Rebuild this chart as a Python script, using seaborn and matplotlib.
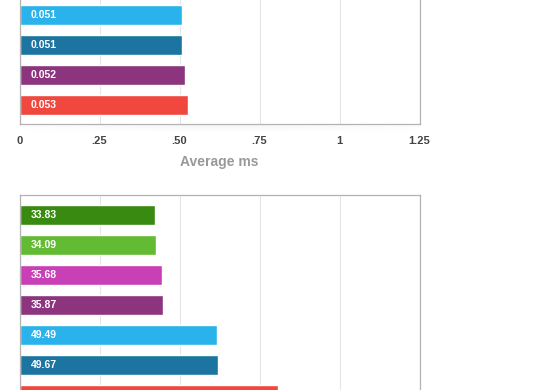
import matplotlib
matplotlib.use('Agg')
import matplotlib.pyplot as plt
import numpy as np
import seaborn as sns

# top panel (cropped at the top of the picture)
top_names = ['lib_d', 'lib_e', 'lib_f', 'lib_g']
top_lengths = [0.508, 0.508, 0.516, 0.527]
top_labels = ['0.051', '0.051', '0.052', '0.053']
top_colors = ['#2ab2eb', '#1c75a1', '#8d347f', '#f0483f']
top_ticks = [0, 0.25, 0.5, 0.75, 1, 1.25]
top_tick_labels = ['0', '.25', '.50', '.75', '1', '1.25']

# bottom panel (cropped at the bottom of the picture, last label not visible)
bot_names = ['lib_a', 'lib_b', 'lib_c', 'lib_f', 'lib_d', 'lib_e', 'lib_g']
bot_values = [33.83, 34.09, 35.68, 35.87, 49.49, 49.67, 64.5]
bot_labels = ['33.83', '34.09', '35.68', '35.87', '49.49', '49.67']
bot_colors = ['#388a10', '#63bb33', '#c83fb6', '#8d347f', '#2ab2eb', '#1c75a1', '#f0483f']
bot_ticks = [0, 20, 40, 60, 80, 100]

sns.set_style('white')
plt.rcParams['font.family'] = ['Liberation Sans', 'DejaVu Sans']

W, H = 560, 390
fig = plt.figure(figsize=(W / 100, H / 100), dpi=100)

PITCH = 30  # px per bar slot
LEFT = 19.5 / W
WIDTH = 400 / W


def style_axes(ax, ticks):
    ax.set_xlim(ticks[0], ticks[-1])
    ax.set_xticks(ticks)
    ax.set_yticks([])
    ax.set_ylabel('')
    ax.grid(axis='x', color='#e6e6e6', linewidth=0.8)
    ax.set_axisbelow(True)
    for s in ax.spines.values():
        s.set_color('#b3b3b3')
        s.set_linewidth(0.9)
    ax.tick_params(axis='x', length=0, pad=9, labelsize=8, labelcolor='#444444')


def draw_labels(ax, labels):
    for i, t in enumerate(labels):
        ax.annotate(t, (0, i), xytext=(11, 0), textcoords='offset pixels',
                    ha='left', va='center', color='white', fontsize=7.5,
                    fontweight='bold')


# ---- top panel
n = len(top_names)
y_lo, y_hi = -1.0, n - 1 + 0.63
h_px = (y_hi - y_lo) * PITCH
bottom_px = 124
ax1 = fig.add_axes([LEFT, (H - bottom_px) / H, WIDTH, h_px / H])
sns.barplot(x=top_lengths, y=top_names, hue=top_names, palette=top_colors,
            legend=False, width=0.66, saturation=1, ax=ax1)
ax1.set_ylim(y_hi, y_lo)
style_axes(ax1, top_ticks)
ax1.set_xticklabels(top_tick_labels, fontweight='bold')
ax1.set_xlabel('Average ms', fontsize=10, fontweight='bold', color='#999999',
               labelpad=6)
draw_labels(ax1, top_labels)

# soft shadow under the top frame
sh = fig.add_axes([LEFT, (H - bottom_px - 9) / H, WIDTH, 9 / H], zorder=-1)
fade = np.linspace(1, 0, 20)[:, None] * np.sin(np.linspace(0.2, np.pi - 0.2, 200))[None, :]
sh.imshow(fade, cmap='Greys', vmin=0, vmax=12, aspect='auto', interpolation='bilinear')
sh.axis('off')

# ---- bottom panel
n = len(bot_names)
y_lo, y_hi = -0.66, n - 1 + 0.66
h_px = (y_hi - y_lo) * PITCH
top_px = 195.3
ax2 = fig.add_axes([LEFT, (H - top_px - h_px) / H, WIDTH, h_px / H])
sns.barplot(x=bot_values, y=bot_names, hue=bot_names, palette=bot_colors,
            legend=False, width=0.66, saturation=1, ax=ax2)
ax2.set_ylim(y_hi, y_lo)
style_axes(ax2, bot_ticks)
ax2.set_xticklabels([])
ax2.set_xlabel('')
draw_labels(ax2, bot_labels)

fig.savefig('out.png', dpi=100)
